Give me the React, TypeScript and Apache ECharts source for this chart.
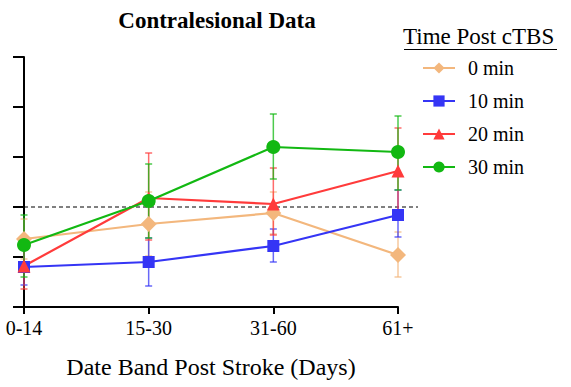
import React, { useEffect, useRef } from "react";
import * as echarts from "echarts";

const categories = ["0-14", "15-30", "31-60", "61+"];
const groupNames = ["0 min", "10 min", "20 min", "30 min"];
const colors = ["#F3B77D", "#3535F5", "#FF3B3B", "#12B812"];
const symbols = ["diamond", "rect", "triangle", "circle"];
const symbolSizes = [16, 12, 13, 14];

const mean0 = [0.68, 0.83, 0.94, 0.52];
const upper0 = [0.88, 1.15, 1.15, 0.75];
const lower0 = [0.48, 0.51, 0.73, 0.3];

const mean10 = [0.4, 0.45, 0.61, 0.92];
const upper10 = [0.58, 0.69, 0.78, 1.17];
const lower10 = [0.22, 0.21, 0.45, 0.7];

const mean20 = [0.41, 1.09, 1.03, 1.36];
const upper20 = [0.62, 1.54, 1.39, 1.79];
const lower20 = [0.18, 0.67, 0.72, 0.93];

const mean30 = [0.62, 1.06, 1.6, 1.55];
const upper30 = [0.92, 1.43, 1.93, 1.91];
const lower30 = [0.3, 0.69, 1.28, 1.17];

const means = [mean0, mean10, mean20, mean30];
const uppers = [upper0, upper10, upper20, upper30];
const lowers = [lower0, lower10, lower20, lower30];

const yTicks = [0, 0.5, 1, 1.5, 2, 2.5];
const baseline = 1;

const FONT = "'Liberation Serif', 'Times New Roman', serif";

export default function App() {
  const ref = useRef<HTMLDivElement>(null);
  useEffect(() => {
    if (!ref.current) return;
    const chart = echarts.init(ref.current, null, { renderer: "svg" });
    const lineSeries: any[] = groupNames.map((name, gi) => ({
      name,
      type: "line",
      data: means[gi],
      symbol: symbols[gi],
      symbolSize: symbolSizes[gi],
      itemStyle: { color: colors[gi] },
      lineStyle: { color: colors[gi], width: 2.2 },
      z: 3,
    }));
    const errSeries: any[] = groupNames.map((name, gi) => ({
      name: name + " error",
      type: "custom",
      z: 2,
      data: categories.map((_, ci) => [ci, lowers[gi][ci], uppers[gi][ci]]),
      renderItem: (params: any, api: any) => {
        const lo = api.coord([api.value(0), api.value(1)]);
        const hi = api.coord([api.value(0), api.value(2)]);
        const hw = 3.5;
        const style = { stroke: colors[gi], lineWidth: 1.5, opacity: 0.75 };
        return {
          type: "group",
          children: [
            { type: "line", shape: { x1: lo[0], y1: lo[1], x2: hi[0], y2: hi[1] }, style },
            { type: "line", shape: { x1: lo[0] - hw, y1: lo[1], x2: lo[0] + hw, y2: lo[1] }, style },
            { type: "line", shape: { x1: hi[0] - hw, y1: hi[1], x2: hi[0] + hw, y2: hi[1] }, style },
          ],
        };
      },
    }));
    chart.setOption({
      animation: false,
      textStyle: { fontFamily: FONT },
      title: {
        text: "Contralesional Data",
        left: 212,
        textAlign: "center",
        top: 4,
        textStyle: { fontFamily: FONT, fontSize: 23, fontWeight: "bold", color: "#000" },
      },
      legend: {
        data: groupNames,
        orient: "vertical",
        left: 417,
        top: 53,
        itemWidth: 32,
        itemHeight: 14,
        itemGap: 13,
        textStyle: { fontFamily: FONT, fontSize: 20, color: "#000", padding: [0, 0, 0, 8] },
      },
      grid: { left: 24, right: 173, top: 57, bottom: 80 },
      xAxis: {
        type: "category",
        data: categories,
        boundaryGap: false,
        name: "Date Band Post Stroke (Days)",
        nameLocation: "middle",
        nameGap: 48,
        nameTextStyle: { fontFamily: FONT, fontSize: 24, color: "#000" },
        axisLine: { lineStyle: { color: "#000", width: 2 } },
        axisTick: { show: true, length: 7, alignWithLabel: true, lineStyle: { color: "#000", width: 2 } },
        axisLabel: { fontFamily: FONT, fontSize: 20, color: "#000", margin: 11 },
      },
      yAxis: {
        type: "value",
        min: yTicks[0],
        max: yTicks[yTicks.length - 1],
        interval: 0.5,
        axisLine: { show: true, lineStyle: { color: "#000", width: 2 } },
        axisTick: { show: true, length: 11, lineStyle: { color: "#000", width: 2 } },
        axisLabel: { show: false },
        splitLine: { show: false },
      },
      series: [...errSeries, ...lineSeries],
    });
    const left = chart.convertToPixel({ xAxisIndex: 0 }, 0) as number;
    const last = chart.convertToPixel({ xAxisIndex: 0 }, categories.length - 1) as number;
    const by = chart.convertToPixel({ yAxisIndex: 0 }, baseline) as number;
    chart.setOption({
      graphic: [
        {
          type: "line",
          z: 1,
          shape: { x1: left, y1: by, x2: last + 20, y2: by },
          style: { stroke: "#000", lineWidth: 1, lineDash: [4, 3] },
        },
        {
          type: "text",
          left: 403,
          top: 25,
          style: { text: "Time Post cTBS", fontFamily: FONT, fontSize: 23, fill: "#000" },
        },
        {
          type: "line",
          shape: { x1: 404, y1: 49.5, x2: 557, y2: 49.5 },
          style: { stroke: "#000", lineWidth: 1 },
        },
      ],
    });
    return () => chart.dispose();
  }, []);
  return (
    <div
      ref={ref}
      style={{ position: "absolute", left: 0, top: 0, width: 571, height: 387 }}
    />
  );
}
